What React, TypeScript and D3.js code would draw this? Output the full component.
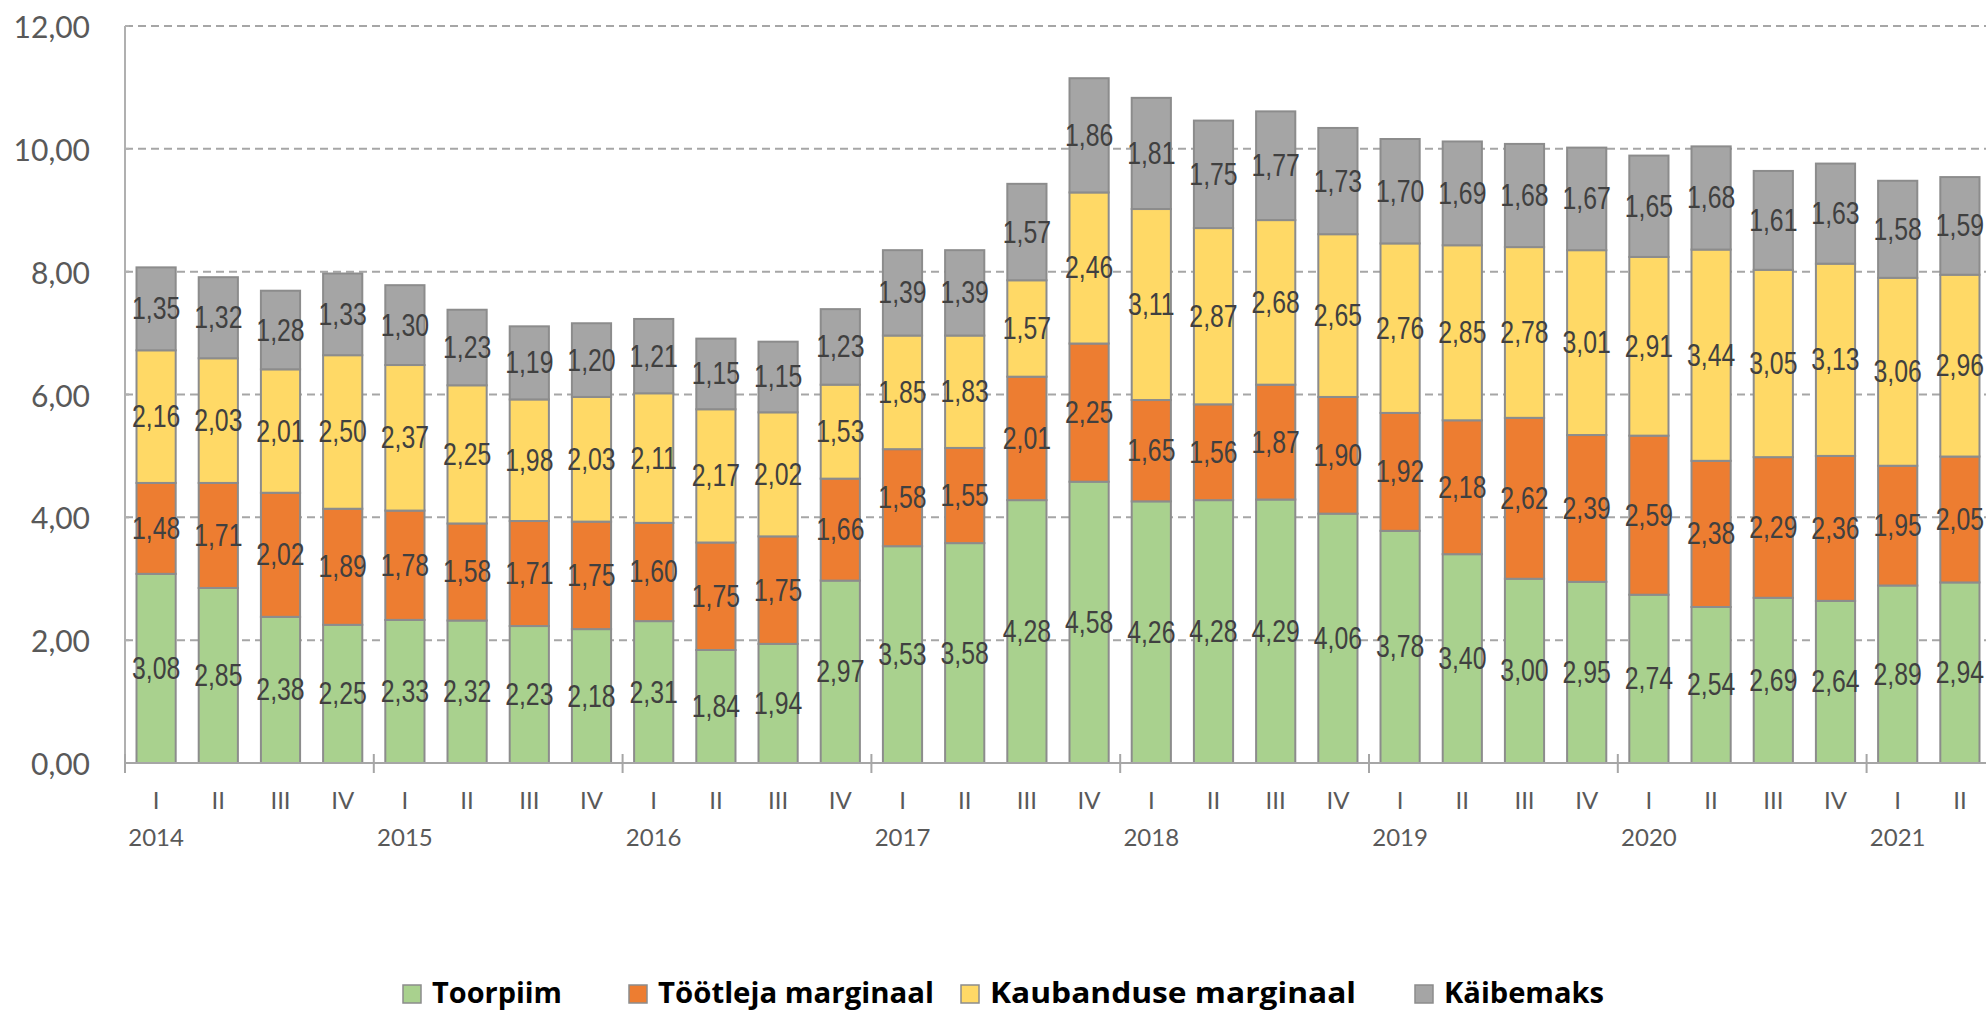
import React from "react";
import * as d3 from "d3";

const quarters = ["I","II","III","IV","I","II","III","IV","I","II","III","IV","I","II","III","IV","I","II","III","IV","I","II","III","IV","I","II","III","IV","I","II"];
const years = ["2014","","","","2015","","","","2016","","","","2017","","","","2018","","","","2019","","","","2020","","","","2021",""];
const toorpiim = [3.08,2.85,2.38,2.25,2.33,2.32,2.23,2.18,2.31,1.84,1.94,2.97,3.53,3.58,4.28,4.58,4.26,4.28,4.29,4.06,3.78,3.40,3.00,2.95,2.74,2.54,2.69,2.64,2.89,2.94];
const tootleja = [1.48,1.71,2.02,1.89,1.78,1.58,1.71,1.75,1.60,1.75,1.75,1.66,1.58,1.55,2.01,2.25,1.65,1.56,1.87,1.90,1.92,2.18,2.62,2.39,2.59,2.38,2.29,2.36,1.95,2.05];
const kaubandus = [2.16,2.03,2.01,2.50,2.37,2.25,1.98,2.03,2.11,2.17,2.02,1.53,1.85,1.83,1.57,2.46,3.11,2.87,2.68,2.65,2.76,2.85,2.78,3.01,2.91,3.44,3.05,3.13,3.06,2.96];
const kaibemaks = [1.35,1.32,1.28,1.33,1.30,1.23,1.19,1.20,1.21,1.15,1.15,1.23,1.39,1.39,1.57,1.86,1.81,1.75,1.77,1.73,1.70,1.69,1.68,1.67,1.65,1.68,1.61,1.63,1.58,1.59];
const seriesNames = ["Toorpiim","Töötleja marginaal","Kaubanduse marginaal","Käibemaks"];
const seriesColors = ["#A9D18E","#ED7D31","#FFD966","#A5A5A5"];
const yTicks = [0,2,4,6,8,10,12];

const W = 1986, H = 1010;
const left = 125, right = 1991, top = 26, bottom = 763;

export default function App() {
  const idx = quarters.map((_, i) => i);
  const x = d3.scaleBand<number>().domain(idx).range([left, right]).paddingInner(0.37).paddingOuter(0.185);
  const y = d3.scaleLinear().domain([0, 12]).range([bottom, top]);
  const keys = ["t","o","k","g"];
  const rows = idx.map(i => ({ t: toorpiim[i], o: tootleja[i], k: kaubandus[i], g: kaibemaks[i] }));
  const stack = d3.stack<any>().keys(keys)(rows);
  const fmt = (v: number) => v.toFixed(2).replace(".", ",");
  const step = x.step();
  const yearTickIdx = idx.filter(i => i % 4 === 0);
  const legendX = [403, 629, 961, 1415];
  const legendW = [130, 276, 366, 160];

  return (
    <svg width={W} height={H} style={{ position: "absolute", left: 0, top: 0, display: "block", background: "#fff" }}>
      {yTicks.filter(t => t > 0).map(t => (
        <line key={t} x1={left} x2={W} y1={y(t)} y2={y(t)} stroke="#A6A6A6" strokeWidth={2} strokeDasharray="8,5" />
      ))}
      <line x1={left} x2={left} y1={top} y2={bottom} stroke="#B0B0B0" strokeWidth={2} />
      {yTicks.map(t => (
        <g key={"yt" + t}>
          <line x1={left} x2={left + 4} y1={y(t)} y2={y(t)} stroke="#B0B0B0" strokeWidth={2} />
          <text x={90} y={y(t)} textAnchor="end" dominantBaseline="central" fontFamily="Lato, 'Open Sans', sans-serif" fontSize={30} fill="#595959">{fmt(t)}</text>
        </g>
      ))}
      {stack.map((s, si) => (
        <g key={si}>
          {s.map((d, i) => (
            <rect key={i} x={x(i)} y={y(d[1])} width={x.bandwidth()} height={y(d[0]) - y(d[1])}
              fill={seriesColors[si]} stroke="#8C8C8C" strokeWidth={2} />
          ))}
        </g>
      ))}
      {stack.map((s, si) => (
        <g key={"l" + si}>
          {s.map((d, i) => {
            const cx = (x(i) as number) + x.bandwidth() / 2;
            const cy = (y(d[0]) + y(d[1])) / 2;
            return (
              <text key={i} transform={`translate(${cx},${cy}) scale(0.8,1)`}
                textAnchor="middle" dominantBaseline="central"
                fontFamily="'Liberation Sans', Arial, sans-serif"
                fontSize={31} fill="#404040">{fmt(d[1] - d[0])}</text>
            );
          })}
        </g>
      ))}
      <line x1={left} x2={W} y1={bottom} y2={bottom} stroke="#A6A6A6" strokeWidth={2} />
      {yearTickIdx.map(i => (
        <line key={"xt" + i} x1={left + i * step} x2={left + i * step} y1={bottom - 9} y2={bottom + 10} stroke="#A6A6A6" strokeWidth={2} />
      ))}
      {idx.map(i => (
        <text key={"q" + i} x={(x(i) as number) + x.bandwidth() / 2} y={809} textAnchor="middle"
          fontFamily="Lato, 'Open Sans', sans-serif" fontSize={24} fill="#595959">{quarters[i]}</text>
      ))}
      {idx.filter(i => years[i]).map(i => (
        <text key={"y" + i} x={(x(i) as number) + x.bandwidth() / 2} y={846} textAnchor="middle"
          fontFamily="Lato, 'Open Sans', sans-serif" fontSize={24} fill="#595959">{years[i]}</text>
      ))}
      {seriesNames.map((n, i) => (
        <g key={"lg" + i}>
          <rect x={legendX[i]} y={985} width={18} height={18} fill={seriesColors[i]} stroke="#8C8C8C" strokeWidth={1.5} />
          <text x={legendX[i] + 29} y={1003} textLength={legendW[i]} lengthAdjust="spacingAndGlyphs"
            fontFamily="'Open Sans', sans-serif" fontWeight={700} fontSize={28} fill="#000">{n}</text>
        </g>
      ))}
    </svg>
  );
}
